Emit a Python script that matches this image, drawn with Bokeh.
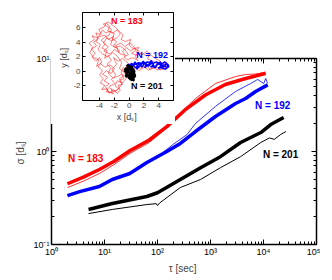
from bokeh.plotting import figure
from bokeh.models import (Range1d, LogAxis, LinearAxis, FixedTicker,
                          CustomJSTickFormatter, Label, Column, Row)
from bokeh.embed import file_html
from bokeh.resources import INLINE

FONT = "Liberation Sans"

# ---- main panel data: tau [sec] vs sigma [d_s] ----
red_thick_t = [2, 4, 8, 15, 30, 70, 150, 330, 800, 1900, 4600, 8000, 11000]
red_thick_s = [0.45, 0.53, 0.64, 0.78, 1.02, 1.33, 1.85, 2.8, 4.05, 5.25, 6.1, 6.6, 6.95]
red_thin_t = [2, 4, 8, 15, 30, 70, 150, 300, 520, 1240, 2970, 4600, 7000, 9600]
red_thin_s = [0.41, 0.48, 0.58, 0.72, 0.95, 1.25, 1.8, 2.75, 3.71, 5.38, 6.4, 6.73, 6.8, 7.0]

blue_thick_t = [2, 3.4, 8, 14, 30, 63, 150, 270, 520, 1240, 2970, 4600, 7100, 12000]
blue_thick_s = [0.336, 0.37, 0.42, 0.50, 0.58, 0.76, 1.0, 1.22, 1.64, 2.38, 3.28, 3.71, 4.42, 5.2]
blue_thin_t = [2, 8, 30, 100, 200, 360, 520, 1240, 2970, 5700, 7770, 10100, 11000, 12000]
blue_thin_s = [0.34, 0.43, 0.59, 0.88, 1.2, 1.52, 2.0, 3.05, 4.42, 5.38, 5.95, 5.38, 6.1, 5.4]

black_thick_t = [5, 14, 63, 100, 270, 650, 1540, 3700, 8900, 13700, 24000]
black_thick_s = [0.238, 0.276, 0.328, 0.36, 0.50, 0.67, 0.88, 1.25, 1.60, 1.95, 2.32]
black_thin_t = [5, 14, 63, 95, 100, 110, 270, 650, 1540, 3700, 8900, 13000, 16000, 21000, 26500]
black_thin_s = [0.215, 0.238, 0.269, 0.275, 0.262, 0.28, 0.41, 0.50, 0.67, 0.88, 1.25, 1.40, 1.35, 1.52, 1.64]

main_ticks = [1, 10, 100, 1000, 10000, 100000]
main_yticks = [0.1, 1, 10]

# ---- inset data: trajectories x, y [d_s] ----
red_x = [0, -0.4, -0.2, -0.8, -1.1, -0.7, -1.3, -1.0, -1.6, -1.9, -1.4, -2.0, -2.5, -2.2, -2.9, -3.2,
         -2.7, -3.4, -2.9, -3.6, -3.1, -2.4, -2.0, -2.6, -3.3, -3.9, -4.4, -4.1, -4.8, -5.3, -4.9, -5.4,
         -4.7, -5.0, -4.3, -3.8, -4.1, -3.4, -3.1, -2.6, -2.9, -2.2, -1.6, -1.2, -1.7, -2.4, -3.0, -3.5,
         -2.8, -3.4, -2.6, -2.0, -1.4, -1.8, -1.1, -0.6, 0.1, 0.6, 0.9, 0.3, 1.1, 1.7, 2.3, 2.8, 2.5,
         3.2, 3.8, 4.4, 4.9, 4.3, 3.6, 2.9, 2.2, 1.5, 0.9, 0.3, -0.3, -0.9, -1.5, -2.1, -1.7, -2.3,
         -1.8, -2.4, -1.9, -2.6, -3.1, -2.4, -1.7, -1.2, -0.8, -0.3, -0.6, -1.3, -1.0, -1.6, -2.2,
         -2.9, -3.6, -4.2, -3.9, -4.5, -4.0, -3.3, -2.8, -2.1, -2.5, -1.9, -1.2, -0.5, -0.1, -0.7,
         -0.2, 0.5, 1.2,
         0.8, 1.4, 0.7, 0.2, -0.4, -0.9, -0.5, -1.2, -1.5, -2.1, -1.7, -2.3, -2.0, -2.6, -3.2, -3.6,
         -3.9, -4.5, -4.2, -4.8, -4.4, -5.1, -4.6, -5.0, -4.5, -4.0, -3.7, -4.2, -3.6, -4.0, -3.5, -3.9,
         -3.3, -3.7, -3.0, -2.7, -2.1, -1.6, -1.2, -1.5, -0.9, -1.3, -0.7, -1.0, -1.6, -2.2, -2.8, -2.5,
         -3.0, -2.4, -2.8, -3.3, -3.0, -3.7, -3.2, -3.8, -3.3, -2.7, -2.4, -3.0, -3.5, -2.8, -2.3, -1.8,
         -1.3, -0.8, -1.1, -0.5, 0.2, 0.0, 0.6, 1.3, 1.0, 1.8, 2.4, 3.0, 3.5, 4.1, 4.6, 5.0, 4.5,
         3.9, 3.3, 2.6, 2.0, 1.4, 0.8, 0.4, -0.2]
red_y = [0.3, 0.8, 0.2, 0.5, -0.2, -0.6, -1.0, -1.6, -1.3, -2.0, -2.4, -2.8, -2.3, -3.1, -2.7, -2.1,
         -1.7, -1.3, -0.8, -0.4, 0.1, -0.3, 0.4, 0.9, 0.6, 1.1, 0.7, 1.6, 1.9, 2.6, 3.3, 3.9,
         4.4, 4.9, 4.6, 5.2, 5.8, 6.1, 6.6, 6.2, 5.6, 5.3, 5.7, 5.1, 4.6, 4.2, 4.6, 3.9,
         3.4, 2.8, 2.4, 3.0, 2.6, 3.6, 3.9, 3.4, 3.9, 3.5, 2.9, 2.5, 2.2, 2.6, 2.1, 2.5, 1.7,
         1.4, 1.1, 0.8, 0.5, 0.2, 0.6, 0.3, 0.8, 0.4, 1.0, 0.6, 1.3, 1.8, 1.4, 1.9, 1.0, 0.3,
         -0.5, -1.1, -1.7, -2.0, -2.8, -2.9, -2.6, -2.1, -1.4, -0.9, -0.2, 0.4, 1.2, 2.1, 2.6,
         2.0, 2.4, 3.0, 3.7, 4.1, 4.8, 5.0, 4.4, 4.8, 3.7, 3.3, 3.5, 2.9, 2.3, 2.0,
         1.6, 1.9, 1.5,
         2.1, 2.7, 3.2, 2.8, 3.3, 2.7, 2.2, 2.4, 3.1, 3.5, 4.1, 4.5, 5.2, 5.5, 5.3, 5.7,
         5.1, 5.3, 4.5, 4.0, 3.5, 3.1, 2.5, 2.0, 1.4, 1.9, 1.3, 0.6, 0.1, -0.5, -1.0, -1.6,
         -1.9, -2.5, -2.4, -3.0, -2.5, -3.0, -2.6, -1.9, -1.8, -1.2, -1.0, -0.4, -0.7, -0.9, -0.3, 0.5,
         1.0, 1.5, 2.2, 1.8, 2.9, 3.2, 3.8, 4.3, 4.7, 5.0, 5.8, 6.2, 6.5, 6.8, 6.4, 6.0,
         5.5, 5.0, 4.4, 4.1, 4.4, 3.6, 3.1, 3.3, 2.6, 2.3, 2.8, 2.2, 1.8, 1.5, 1.0, 1.3, 0.4,
         0.2, 0.5, 0.2, 0.6, 0.1, 0.5, -0.2, 0.1]
blue_x = [-0.3, 0.2, -0.1, 0.5, 0.8, 1.2, 1.0, 1.6, 1.9, 2.3, 2.1, 2.7, 3.0, 3.3, 2.9, 3.6, 3.9, 4.3,
          4.0, 4.7, 5.1, 5.3, 4.8, 4.4, 3.7, 3.2, 2.5, 1.8, 1.3, 0.7, 0.3, 0.0,
          0.4, 0.9, 1.4, 1.7, 2.2, 2.6, 3.1, 3.5, 3.8, 4.2, 4.6, 5.0, 5.4, 4.9, 4.4, 3.9]
blue_y = [0.2, 0.6, 1.0, 0.8, 1.3, 0.7, 0.3, 0.9, 1.4, 0.9, 0.5, 1.0, 1.5, 0.9, 0.6, 0.7, 1.2, 0.8,
          0.4, 0.9, 0.5, 0.9, 1.3, 1.0, 1.3, 1.1, 1.3, 1.1, 1.2, 0.9, 1.1, 0.5,
          0.9, 0.5, 1.1, 0.6, 1.2, 0.7, 1.2, 0.5, 0.9, 1.3, 0.6, 1.0, 0.7, 0.3, 0.5, 0.5]
black_x = [0, -0.4, -0.6, -0.2, -0.5, 0.1, 0.4, 0.7, 0.3, 0.6, 0.2, -0.3, 0.1, 0.5, 0.8, 0.4, 0.0, -0.4,
           -0.1, -0.3, 0.2, 0.6, 0.1, -0.5, 0.3, 0.7, 0.5]
black_y = [0, 0.5, 0.1, -0.3, -0.7, -0.5, -1.0, -1.3, -0.8, -0.3, 0.2, 0.9, 0.6, 0.1, -0.6, -1.2, -0.9, -0.2,
           0.4, -0.4, -1.1, -0.9, -0.2, 0.3, 0.7, 0.0, -0.7]

inset_xticks = [-4, -2, 0, 2, 4]
inset_yticks = [-2, 0, 2, 4, 6]

fmt_code = """
const sup = {"0":"\u2070","1":"\u00b9","2":"\u00b2","3":"\u00b3","4":"\u2074","5":"\u2075","-":"\u207b"};
const e = Math.round(Math.log10(tick));
return "10" + String(e).split("").map(c => sup[c]).join("");
"""

def minors(majors):
    return [m * k for m in majors[:-1] for k in range(2, 10)]

main = figure(frame_width=265, frame_height=186, x_axis_type="log", y_axis_type="log",
              x_range=Range1d(1, 1e5), y_range=Range1d(0.1, 10),
              output_backend="svg", toolbar_location=None,
              min_border_left=51, min_border_right=4, min_border_top=58, min_border_bottom=28)
main.xgrid.visible = False
main.ygrid.visible = False
main.outline_line_color = None
main.background_fill_color = "white"
main.border_fill_color = "white"

def style_axis(ax, majors, labels=True):
    ax.ticker = FixedTicker(ticks=majors, minor_ticks=minors(majors))
    ax.axis_line_width = 1.5
    ax.axis_line_color = "black"
    ax.major_tick_in = 5
    ax.major_tick_out = 0
    ax.minor_tick_in = 3
    ax.minor_tick_out = 0
    ax.major_tick_line_color = "black"
    ax.minor_tick_line_color = "black"
    ax.major_label_text_font = FONT
    ax.major_label_text_font_size = "9px" if labels else "1px"
    ax.major_label_text_color = "black"
    ax.major_label_text_alpha = 1 if labels else 0
    ax.major_label_standoff = 2 if labels else 0
    ax.axis_label_text_font = FONT
    ax.axis_label_text_font_style = "normal"
    ax.axis_label_text_font_size = "10px"
    ax.formatter = CustomJSTickFormatter(code=fmt_code)

style_axis(main.xaxis[0], main_ticks)
style_axis(main.yaxis[0], main_yticks)
main.xaxis.axis_label = "\u03c4  [sec]"
main.yaxis.axis_label = "\u03c3  [d\u209b]"
main.xaxis.axis_label_standoff = 3
main.yaxis.axis_label_standoff = 4

top_ax = LogAxis()
style_axis(top_ax, main_ticks, labels=False)
main.add_layout(top_ax, "above")
right_ax = LogAxis()
style_axis(right_ax, main_yticks, labels=False)
main.add_layout(right_ax, "right")

main.line(red_thin_t, red_thin_s, line_color="red", line_width=0.8)
main.line(blue_thin_t, blue_thin_s, line_color="blue", line_width=0.8)
main.line(black_thin_t, black_thin_s, line_color="black", line_width=1.0)
main.line(red_thick_t, red_thick_s, line_color="red", line_width=3.5, line_join="round")
main.line(blue_thick_t, blue_thick_s, line_color="blue", line_width=3.5, line_join="round")
main.line(black_thick_t, black_thick_s, line_color="black", line_width=3.5, line_join="round")

for txt, x, y, c in [("N = 183", 4.4, 0.84, "red"), ("N = 192", 14900, 3.13, "blue"),
                     ("N = 201", 21000, 0.93, "black")]:
    main.add_layout(Label(x=x, y=y, text=txt, text_color=c, text_font=FONT,
                          text_font_size="10px", text_font_style="bold",
                          text_align="center", text_baseline="middle"))

inset = figure(width=125, height=116, x_range=Range1d(-6.3, 6.0), y_range=Range1d(-4.0, 8.1),
               output_backend="svg", toolbar_location=None,
               min_border_left=32, min_border_right=2, min_border_top=4, min_border_bottom=21)
inset.xgrid.visible = False
inset.ygrid.visible = False
inset.outline_line_color = "black"
inset.outline_line_width = 1
inset.background_fill_color = "white"
inset.border_fill_color = "white"

def style_lin(ax, ticks, labels=True):
    ax.ticker = FixedTicker(ticks=ticks)
    ax.axis_line_color = "black"
    ax.axis_line_width = 1
    ax.major_tick_in = 3
    ax.major_tick_out = 0
    ax.minor_tick_line_color = None
    ax.major_label_text_font = FONT
    ax.major_label_text_font_size = "8px" if labels else "1px"
    ax.major_label_text_alpha = 1 if labels else 0
    ax.major_label_standoff = 2 if labels else 0
    ax.major_label_overrides = {t: str(t) for t in ticks}
    ax.axis_label_text_font = FONT
    ax.axis_label_text_font_style = "normal"
    ax.axis_label_text_font_size = "9px"
    ax.axis_label_standoff = 1

style_lin(inset.xaxis[0], inset_xticks)
style_lin(inset.yaxis[0], inset_yticks)
inset.xaxis.axis_label = "x  [d\u209b]"
inset.yaxis.axis_label = "y  [d\u209b]"
ia = LinearAxis()
style_lin(ia, inset_xticks, labels=False)
inset.add_layout(ia, "above")
ir = LinearAxis()
style_lin(ir, inset_yticks, labels=False)
inset.add_layout(ir, "right")

inset.line(red_x, red_y, line_color="red", line_width=0.5)
inset.line(blue_x, blue_y, line_color="blue", line_width=1.5)
inset.line(black_x, black_y, line_color="black", line_width=2.5)

for txt, x, y, c in [("N = 183", -0.3, 6.9, "red"), ("N = 192", 3.1, 2.3, "blue"),
                     ("N = 201", 2.4, -2.0, "black")]:
    inset.add_layout(Label(x=x, y=y, text=txt, text_color=c, text_font=FONT,
                           text_font_size="9px", text_font_style="bold",
                           text_align="center", text_baseline="middle"))

inset_box = Row(children=[inset],
                styles={"position": "absolute", "left": "50px", "top": "8px"})
lay = Column(children=[Row(children=[main]), inset_box], styles={"position": "relative"})

open("out.html", "w").write(file_html(lay, INLINE))
